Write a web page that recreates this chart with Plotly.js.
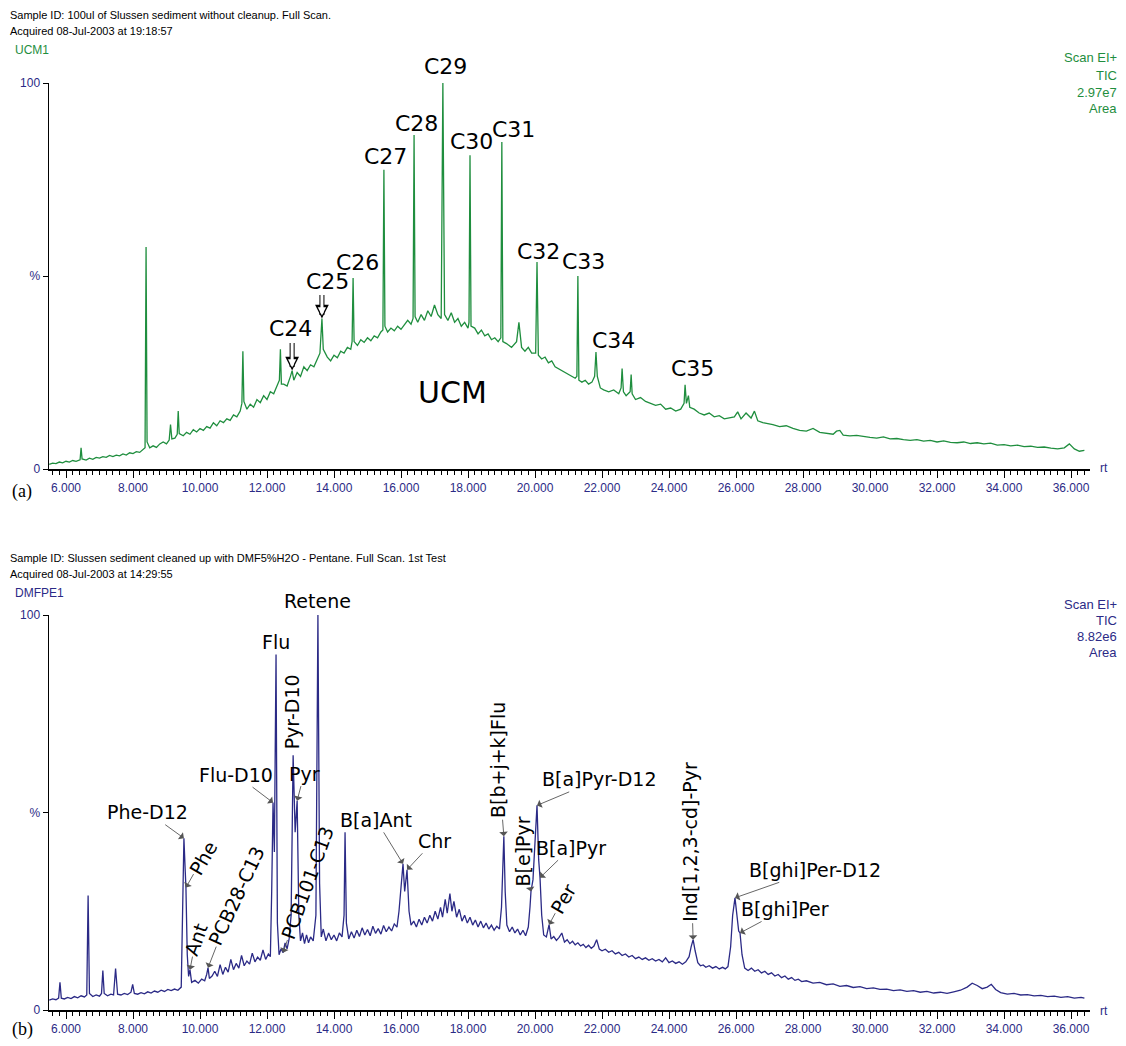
<!DOCTYPE html>
<html><head><meta charset="utf-8">
<script src="https://cdn.plot.ly/plotly-3.0.1.min.js"></script>
<style>html,body{margin:0;padding:0;background:#fff}#chart{width:1126px;height:1046px}</style>
</head><body><div id="chart"></div>
<script>
// ---------- DATA: panel (a) ----------
const rtA = [5.50,5.60,5.70,5.80,5.90,6.00,6.10,6.20,6.30,6.42,6.45,6.48,6.60,6.70,6.80,6.90,7.00,7.10,7.20,7.30,7.40,7.50,7.60,7.70,7.80,7.90,8.00,8.10,8.20,8.30,8.36,8.39,8.42,8.50,8.60,8.70,8.80,8.90,9.00,9.08,9.12,9.16,9.25,9.32,9.35,9.38,9.50,9.60,9.70,9.80,9.90,10.00,10.10,10.20,10.30,10.40,10.50,10.60,10.70,10.80,10.90,11.00,11.10,11.20,11.25,11.28,11.31,11.40,11.50,11.60,11.70,11.80,11.90,12.00,12.10,12.20,12.30,12.37,12.40,12.43,12.50,12.60,12.70,12.75,12.80,12.90,13.00,13.10,13.20,13.30,13.40,13.50,13.58,13.64,13.68,13.80,13.90,14.00,14.10,14.20,14.30,14.40,14.50,14.54,14.57,14.60,14.70,14.80,14.90,15.00,15.10,15.20,15.30,15.40,15.46,15.49,15.52,15.60,15.70,15.80,15.90,16.00,16.10,16.20,16.30,16.36,16.39,16.42,16.50,16.60,16.70,16.80,16.90,17.00,17.10,17.20,17.25,17.30,17.40,17.50,17.60,17.70,17.80,17.90,18.00,18.03,18.06,18.09,18.20,18.30,18.40,18.50,18.60,18.70,18.80,18.90,18.98,19.01,19.04,19.15,19.30,19.45,19.52,19.60,19.70,19.80,19.90,20.02,20.06,20.10,20.20,20.30,20.40,20.50,20.60,20.70,20.80,20.90,21.00,21.10,21.20,21.25,21.28,21.31,21.40,21.50,21.60,21.70,21.78,21.82,21.86,21.95,22.05,22.20,22.35,22.50,22.57,22.60,22.64,22.72,22.84,22.87,22.90,23.00,23.15,23.30,23.45,23.60,23.75,23.90,24.05,24.20,24.35,24.45,24.48,24.52,24.58,24.62,24.75,24.90,25.05,25.20,25.35,25.50,25.65,25.80,25.95,26.05,26.15,26.30,26.45,26.55,26.65,26.80,26.95,27.10,27.30,27.50,27.70,27.90,28.10,28.30,28.50,28.70,28.90,29.00,29.10,29.20,29.40,29.60,29.80,30.00,30.20,30.40,30.60,30.80,31.00,31.20,31.40,31.60,31.80,32.00,32.20,32.40,32.60,32.80,33.00,33.20,33.40,33.60,33.80,34.00,34.20,34.40,34.60,34.80,35.00,35.20,35.40,35.60,35.80,35.95,36.10,36.25,36.40];
const intA = [1.2,1.5,1.4,1.8,1.6,2.0,1.8,2.2,2.0,2.4,5.5,2.6,2.3,2.8,2.5,3.0,2.8,3.2,3.0,3.5,3.2,3.6,3.4,3.9,3.6,4.2,4.0,4.5,4.3,5.0,5.5,57.5,7.0,5.5,6.0,5.6,6.5,7.0,6.5,7.5,11.5,7.8,8.0,9.0,15.0,9.2,8.6,9.5,9.0,10.2,9.6,10.5,10.0,11.0,10.6,12.0,11.2,12.5,12.0,13.0,12.6,14.0,13.5,15.0,17.0,30.5,17.5,15.5,16.8,16.0,18.0,17.2,19.0,18.0,20.0,19.5,21.5,23.0,31.0,22.0,22.0,21.5,24.0,25.5,23.0,25.0,24.0,26.5,25.5,27.0,26.5,28.5,30.0,39.0,31.0,29.0,28.0,29.5,28.8,30.5,30.0,31.5,31.0,33.0,49.5,33.0,32.0,33.5,32.8,34.0,33.2,34.5,34.0,35.5,36.0,77.5,37.0,35.5,36.5,35.8,37.0,36.2,37.5,38.5,37.5,39.0,86.5,39.5,38.0,40.0,38.5,41.0,39.5,42.5,40.0,39.0,100,40.0,38.5,40.5,38.0,39.0,37.0,38.0,36.5,38.0,81.3,37.0,36.5,35.0,36.0,34.5,35.0,33.5,34.0,33.0,34.0,84.7,33.0,32.5,31.5,33.0,38.0,31.5,30.5,31.5,30.0,30.0,53.6,29.5,28.5,29.0,27.5,28.0,26.5,26.0,25.5,25.0,24.5,24.0,23.5,24.0,50.0,23.0,22.5,23.0,22.0,22.5,24.0,30.3,24.0,21.0,20.5,20.0,20.5,19.5,21.0,26.0,20.0,19.0,20.0,24.5,19.5,18.0,18.5,17.5,17.0,16.5,16.8,15.5,15.8,15.0,15.5,17.0,21.8,17.0,19.0,16.0,15.5,14.5,14.0,14.5,13.5,13.8,13.0,13.2,13.5,14.8,13.0,14.5,13.2,15.0,12.5,12.0,11.8,11.5,11.0,11.2,10.5,10.0,9.8,10.5,9.5,9.2,9.0,9.8,10.0,8.8,8.6,8.7,8.4,8.2,8.0,8.3,7.8,7.9,7.6,7.4,7.6,7.2,7.4,7.0,7.3,6.9,6.8,7.0,6.6,6.8,6.5,6.7,6.2,6.3,6.0,6.2,5.8,5.9,5.6,5.7,5.4,5.2,5.5,6.5,5.2,4.6,4.8];

// ---------- DATA: panel (b) ----------
const rtB = [5.50,5.60,5.70,5.78,5.82,5.86,5.95,6.05,6.15,6.25,6.35,6.45,6.55,6.62,6.66,6.70,6.80,6.90,7.00,7.06,7.10,7.14,7.24,7.34,7.42,7.48,7.54,7.64,7.74,7.84,7.94,7.99,8.04,8.14,8.24,8.34,8.44,8.54,8.64,8.74,8.84,8.94,9.04,9.14,9.24,9.34,9.44,9.48,9.52,9.56,9.58,9.62,9.66,9.70,9.75,9.85,9.95,10.05,10.14,10.20,10.24,10.28,10.36,10.44,10.52,10.60,10.68,10.76,10.84,10.92,11.00,11.08,11.16,11.24,11.32,11.40,11.48,11.56,11.64,11.72,11.80,11.88,11.96,12.04,12.10,12.14,12.18,12.22,12.27,12.31,12.36,12.42,12.48,12.54,12.60,12.66,12.72,12.78,12.84,12.90,12.95,13.00,13.06,13.12,13.18,13.24,13.30,13.38,13.46,13.52,13.57,13.62,13.68,13.76,13.84,13.92,14.00,14.08,14.16,14.24,14.30,14.33,14.37,14.44,14.52,14.60,14.68,14.76,14.84,14.92,15.00,15.08,15.16,15.24,15.32,15.40,15.48,15.56,15.64,15.72,15.80,15.88,15.94,16.00,16.06,16.11,16.18,16.24,16.30,16.38,16.46,16.54,16.62,16.70,16.78,16.86,16.94,17.02,17.10,17.18,17.24,17.32,17.38,17.46,17.52,17.58,17.66,17.74,17.82,17.90,17.98,18.06,18.14,18.22,18.30,18.38,18.46,18.54,18.62,18.70,18.78,18.86,18.94,19.00,19.04,19.07,19.11,19.16,19.24,19.32,19.40,19.48,19.56,19.64,19.72,19.80,19.85,19.88,19.94,20.00,20.06,20.11,20.15,20.20,20.26,20.34,20.42,20.48,20.56,20.64,20.72,20.80,20.88,20.96,21.04,21.12,21.20,21.28,21.36,21.44,21.52,21.60,21.68,21.76,21.84,21.92,22.00,22.10,22.20,22.30,22.40,22.50,22.60,22.70,22.80,22.90,23.00,23.10,23.20,23.30,23.40,23.50,23.60,23.70,23.80,23.90,24.00,24.10,24.20,24.30,24.40,24.50,24.60,24.66,24.72,24.78,24.86,24.94,25.02,25.10,25.20,25.30,25.40,25.50,25.60,25.68,25.76,25.84,25.90,25.97,26.03,26.08,26.12,26.18,26.26,26.36,26.46,26.56,26.66,26.76,26.86,26.96,27.06,27.16,27.26,27.36,27.46,27.56,27.66,27.76,27.86,27.96,28.10,28.30,28.50,28.70,28.90,29.10,29.30,29.50,29.70,29.90,30.10,30.30,30.50,30.70,30.90,31.10,31.30,31.50,31.70,31.90,32.10,32.30,32.50,32.70,32.90,33.05,33.20,33.35,33.50,33.62,33.75,33.90,34.10,34.30,34.50,34.70,34.90,35.10,35.30,35.50,35.70,35.90,36.10,36.30,36.40];
const intB = [2.5,2.8,2.6,3.0,7.0,3.0,2.8,3.2,2.9,3.4,3.1,3.6,3.3,3.8,29.0,4.2,3.4,3.8,3.5,4.2,10.0,4.2,3.6,4.0,3.8,10.5,4.0,3.8,4.2,3.9,4.5,6.5,4.2,4.0,4.4,4.1,4.6,4.3,4.8,4.5,5.0,4.7,5.2,4.9,5.3,5.0,5.8,25.0,43.5,35.0,31.0,14.0,8.5,10.2,7.0,7.5,6.8,7.8,7.4,9.0,10.7,8.0,8.6,9.8,8.5,11.5,9.0,10.8,9.6,12.8,10.2,11.8,10.6,13.8,11.2,12.4,11.6,14.4,12.2,13.4,12.6,15.2,12.8,14.2,13.5,30.0,52.5,40.0,90.0,22.0,14.0,15.5,14.5,17.0,15.5,18.0,24.0,64.5,45.0,53.0,24.0,17.5,19.5,16.8,19.0,17.0,18.5,17.5,24.0,100,32.0,18.5,20.5,17.5,19.5,17.8,19.0,17.5,19.5,18.5,24.0,45.0,22.0,18.0,19.8,18.2,20.2,18.6,20.8,19.0,20.4,18.8,21.2,19.4,20.6,19.2,21.4,19.8,21.0,20.0,21.8,21.0,25.0,31.0,37.0,30.0,35.5,25.0,21.5,22.5,21.0,23.0,21.5,23.5,22.0,24.0,22.5,25.0,23.0,26.0,23.5,28.0,24.5,29.5,25.0,27.5,23.5,25.5,22.5,24.0,22.0,23.5,21.5,22.8,21.0,22.5,20.8,22.0,20.5,21.5,20.2,21.2,20.5,26.0,38.0,44.0,30.0,21.5,19.8,21.0,19.5,20.5,19.0,20.2,18.8,21.0,26.0,30.0,33.0,42.0,51.8,38.0,33.5,24.0,19.0,18.5,21.6,18.0,18.6,17.6,18.4,19.5,17.2,17.8,16.8,17.4,16.5,17.0,16.2,16.6,15.8,16.4,15.6,16.2,17.8,15.4,15.0,15.4,14.6,15.0,14.2,14.6,13.8,14.2,13.4,13.8,13.0,13.4,12.8,13.2,12.6,13.0,12.4,12.8,12.2,13.2,12.0,12.4,11.8,12.2,11.6,12.2,13.5,16.0,17.8,15.0,12.0,11.2,11.4,10.8,11.2,10.6,11.0,10.4,10.8,10.4,11.0,16.0,24.0,28.4,24.0,20.0,19.5,14.0,10.6,10.0,10.6,9.8,10.2,9.4,9.8,9.0,9.4,8.6,9.0,8.2,8.6,7.8,8.2,7.5,7.8,7.2,7.4,6.8,7.0,6.4,6.6,6.0,6.2,5.7,5.9,5.4,5.6,5.2,5.3,4.9,5.1,4.7,4.9,4.5,4.7,4.3,4.5,4.2,4.6,5.0,5.8,6.8,6.2,5.4,5.8,6.5,5.2,4.4,4.0,4.2,3.8,3.9,3.6,3.7,3.4,3.5,3.2,3.4,3.0,3.2,3.0];

// ---------- axis tick labels ----------
const xTickVals = [6,8,10,12,14,16,18,20,22,24,26,28,30,32,34,36];
const xTickText = ['6.000','8.000','10.000','12.000','14.000','16.000','18.000','20.000','22.000','24.000','26.000','28.000','30.000','32.000','34.000','36.000'];
const yTickVals = [0,50,100];
const yTickText = ['0','%','100'];

// ---------- peak labels ----------
const peakNamesA = ['C24','C25','C26','C27','C28','C29','C30','C31','C32','C33','C34','C35'];
const peakRtA = [12.75,13.64,14.57,15.49,16.39,17.25,18.06,19.01,20.06,21.28,21.82,24.48];
const peakIntA = [25.5,39.0,49.5,77.5,86.5,100,81.3,84.7,53.6,50.0,30.3,21.8];

const peakNamesB = ['Phe-D12','Phe','Ant','PCB28-C13','Flu-D10','Flu','Pyr-D10','Pyr','PCB101-C13','Retene','B[a]Ant','Chr','B[b+j+k]Flu','B[e]Pyr','B[a]Pyr-D12','B[a]Pyr','Per','Ind[1,2,3-cd]-Pyr','B[ghi]Per-D12','B[ghi]Per'];
const peakRtB = [9.52,9.58,9.70,10.24,12.18,12.27,12.78,12.90,12.48,13.52,16.06,16.18,19.07,19.88,20.06,20.15,20.42,24.72,25.97,26.12];
const peakIntB = [43.5,31,10.2,10.7,52.5,90,64.5,53,14.5,100,37,35.5,44,30,51.8,33.5,21.6,17.8,28.4,19.5];

// ---------- layout helpers ----------
const W = 1126, H = 1046;
const PX = x => x / W;
const PY = y => 1 - y / H;
const GREEN = '#1f8e3e', NAVY = '#2b2a86';
const FONT = 'Liberation Sans, Arial, sans-serif';
const LFONT = 'DejaVu Sans, sans-serif';

// label placement (pixels) for panel a: [xshift, yshift]
const offA = [[-2,42],[6,37],[4,15],[2,13],[2,12],[3,16],[1,14],[12,13],[1,11],[6,14],[18,12],[7,16]];
// label placement for panel b: [ax, ay, angle, arrow]
const styB = [
  [-36,-26,0,1],[17,-30,-60,1],[6,-31,-70,1],[28,-72,-65,1],[-37,-28,0,1],
  [0,13,0,0],[-1,43,-90,0],[7,-27,0,1],[24,-70,-70,1],[0,14,0,0],
  [-27,-44,0,1],[27,-29,0,1],[-6,-76,-90,1],[-8,-40,-90,1],[62,-26,0,1],
  [31,-30,0,1],[14,-26,-60,1],[-3,-98,-90,1],[80,-28,0,1],[45,-24,0,1]
];

const xRange = [6 - 17/33.5, 36 + 19/33.5];

function xAxis(anchor) {
  return {
    domain: [PX(49), PX(1090)], range: xRange, anchor: anchor,
    showline: true, linecolor: '#000', linewidth: 1.5, mirror: false,
    ticks: 'outside', ticklen: 7, tickwidth: 1, tickcolor: '#000',
    tickmode: 'array', tickvals: xTickVals, ticktext: xTickText,
    tickfont: {family: FONT, size: 12, color: NAVY},
    minor: {ticks: 'outside', ticklen: 4, tickwidth: 1, tickcolor: '#000', dtick: 0.2, tick0: 0, showgrid: false},
    showgrid: false, zeroline: false, fixedrange: true
  };
}
function yAxis(anchor, top, bottom) {
  return {
    domain: [PY(bottom), PY(top)], range: [0, 100], anchor: anchor,
    showline: true, linecolor: '#000', linewidth: 1.5,
    ticks: 'outside', ticklen: 5, tickwidth: 1, tickcolor: '#000',
    tickmode: 'array', tickvals: yTickVals, ticktext: yTickText,
    tickfont: {family: FONT, size: 12, color: NAVY},
    showgrid: false, zeroline: false, fixedrange: true
  };
}

const traces = [
  {x: rtA, y: intA, xaxis: 'x', yaxis: 'y', type: 'scatter', mode: 'lines',
   line: {color: GREEN, width: 1.3}, hoverinfo: 'skip'},
  {x: rtB, y: intB, xaxis: 'x2', yaxis: 'y2', type: 'scatter', mode: 'lines',
   line: {color: NAVY, width: 1.3}, hoverinfo: 'skip'}
];

const ann = [];
function paperText(text, x, y, opts) {
  ann.push(Object.assign({text: text, xref: 'paper', yref: 'paper', x: PX(x), y: PY(y),
    showarrow: false, xanchor: 'left', yanchor: 'middle',
    font: {family: FONT, size: 11, color: '#000'}}, opts || {}));
}
// headers panel a
paperText('Sample ID: 100ul of Slussen sediment without cleanup. Full Scan.', 8, 15);
paperText('Acquired 08-Jul-2003 at 19:18:57', 8, 31);
paperText('UCM1', 13, 50, {font: {family: FONT, size: 12, color: GREEN}});
['Scan EI+','TIC','2.97e7','Area'].forEach((t, i) => paperText(t, 1119, 58 + i*17,
  {xanchor: 'right', font: {family: FONT, size: 13, color: GREEN}}));
paperText('(a)', 10, 491, {font: {family: 'Liberation Serif, serif', size: 18, color: '#000'}});
paperText('rt', 1098, 468, {font: {family: FONT, size: 12, color: NAVY}});
paperText('UCM', 452, 392, {xanchor: 'center', font: {family: LFONT, size: 30, color: '#000'}});
// headers panel b
paperText('Sample ID: Slussen sediment cleaned up with DMF5%H2O - Pentane. Full Scan. 1st Test', 8, 558);
paperText('Acquired 08-Jul-2003 at 14:29:55', 8, 574);
paperText('DMFPE1', 13, 593, {font: {family: FONT, size: 12, color: NAVY}});
['Scan EI+','TIC','8.82e6','Area'].forEach((t, i) => paperText(t, 1119, 604 + i*16,
  {xanchor: 'right', font: {family: FONT, size: 13, color: NAVY}}));
paperText('(b)', 10, 1029, {font: {family: 'Liberation Serif, serif', size: 18, color: '#000'}});
paperText('rt', 1098, 1011, {font: {family: FONT, size: 12, color: NAVY}});

// panel a peak labels
peakNamesA.forEach((n, i) => {
  ann.push({text: n, xref: 'x', yref: 'y', x: peakRtA[i], y: peakIntA[i], showarrow: false,
    xanchor: 'center', yanchor: 'middle', xshift: offA[i][0], yshift: offA[i][1],
    font: {family: LFONT, size: 22, color: '#000'}});
});
// hollow arrows for C24, C25 (outline drawn as black arrow with white core)
[[0, -29], [1, -25]].forEach(([i, ay]) => {
  ann.push({text: '', xref: 'x', yref: 'y', x: peakRtA[i], y: peakIntA[i], showarrow: true,
    ax: 0, ay: ay, arrowhead: 2, arrowwidth: 5, arrowsize: 0.55, arrowcolor: '#000', standoff: 0});
  ann.push({text: '', xref: 'x', yref: 'y', x: peakRtA[i], y: peakIntA[i], showarrow: true,
    ax: 0, ay: ay - 1, arrowhead: 2, arrowwidth: 3, arrowsize: 0.55, arrowcolor: '#fff', standoff: 3});
});

// panel b peak labels
peakNamesB.forEach((n, i) => {
  const s = styB[i];
  if (s[3]) {
    ann.push({text: n, xref: 'x2', yref: 'y2', x: peakRtB[i], y: peakIntB[i], showarrow: true,
      ax: s[0], ay: s[1], textangle: s[2], arrowhead: 1, arrowsize: 1.6, arrowwidth: 0.9,
      arrowcolor: '#555', standoff: 0, font: {family: LFONT, size: 19, color: '#000'}});
  } else {
    ann.push({text: n, xref: 'x2', yref: 'y2', x: peakRtB[i], y: peakIntB[i], showarrow: false,
      xanchor: 'center', yanchor: 'middle', xshift: s[0], yshift: s[1], textangle: s[2],
      font: {family: LFONT, size: 19, color: '#000'}});
  }
});

const layout = {
  width: W, height: H, margin: {l: 0, r: 0, t: 0, b: 0},
  paper_bgcolor: '#fff', plot_bgcolor: 'rgba(0,0,0,0)', showlegend: false,
  xaxis: xAxis('y'), yaxis: yAxis('x', 83, 469),
  xaxis2: xAxis('y2'), yaxis2: yAxis('x2', 615, 1010),
  annotations: ann
};

Plotly.newPlot('chart', traces, layout, {staticPlot: true, displayModeBar: false});
</script></body></html>
